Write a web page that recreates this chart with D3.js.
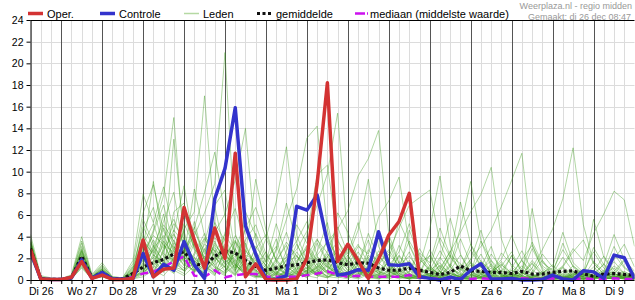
<!DOCTYPE html>
<html>
<head>
<meta charset="utf-8">
<script src="https://cdn.jsdelivr.net/npm/d3@7"></script>
<style>
  body { margin: 0; background: #fff; }
  svg { display: block; font-family: "Liberation Sans", Arial, sans-serif; }
</style>
</head>
<body>
<svg id="chart" width="635" height="300"></svg>
<script>
// neerslag per 6 uur (mm), start di 26 dec 06:00, stap 6 uur
var dayLabels = ["Di 26", "Wo 27", "Do 28", "Vr 29", "Za 30", "Zo 31", "Ma 1", "Di 2",
                 "Wo 3", "Do 4", "Vr 5", "Za 6", "Zo 7", "Ma 8", "Di 9"];
var yTicks = [0, 2, 4, 6, 8, 10, 12, 14, 16, 18, 20, 22, 24];

var oper = [2.8,0.1,0.05, 0.05,0.25,1.7,0.15, 0.45,0.05,0.05,0.15, 3.7,0.3,1.0,1.1,
            6.7,3.7,1.1,4.8, 2.0,11.7,0.3,1.5, 0.05,0,0,0.1, 2.0,8.9,18.2,1.7,
            3.3,1.8,0.15,1.9, 4.15,5.4,8.0,0.2];

var controle = [2.6,0.1,0.05, 0.05,0.2,1.85,0.15, 0.7,0.1,0.1,0.1, 2.45,0.3,1.45,0.9,
                3.55,1.4,0.15,7.5, 10.3,15.9,5.0,2.4, 0.05,0.05,0.4,6.8, 6.45,7.85,3.45,0.45,
                0.6,0.95,0.9,4.45, 1.4,1.35,1.5,0.3, 0.15,0,0.25,0.05, 0.9,1.5,0.1,0.1,
                0.15,0,0,0.05, 0.45,0.1,0,0.85, 0.75,0.15,2.3,2.05, 0.15];

var gemiddelde = [2.9,0.1,0.05, 0.05,0.2,2.2,0.2, 0.7,0.1,0.1,0.6, 1.2,1.6,1.9,2.4,
                  2.6,1.5,1.3,2.2, 2.7,2.5,1.8,1.25, 0.9,1.1,1.3,1.4, 1.6,1.8,1.85,1.6,
                  1.4,1.6,1.55,1.1, 0.9,0.9,1.1,0.9, 0.7,0.5,0.7,1.3, 0.85,0.8,0.7,0.7,
                  0.6,0.8,0.55,0.55, 0.7,0.8,0.85,0.55, 0.35,0.55,0.6,0.5, 0.45];

var mediaan = [2.8,0.1,0.05, 0.05,0.2,1.9,0.15, 0.6,0.1,0.05,0.3, 0.6,0.75,1.2,1.7,
               2.2,0.4,0.3,0.9, 0.25,0.45,0.55,0.55, 0.3,0.3,0.3,0.3, 0.45,0.6,0.8,0.5,
               0.3,0.4,0.3,0.3, 0.3,0.3,0.45,0.2, 0.15,0.1,0.1,0.15, 0.1,0.15,0.1,0.05,
               0.1,0.15,0.1,0.1, 0.15,0.1,0.1,0.15, 0.1,0.1,0.15,0.1, 0.1];

var leden = [
  [3.2,0.1,0, 0,0.2,2.4,0.1, 0.8,0.1,0,0.3, 1.5,3.2,0.8,2.1, 4.5,1.2,0.6,2.8, 1.9,0.7,3.4,0.9, 0.2,0.5,1.8,0.6, 2.4,1.1,0.3,0.8, 0.5,1.9,0.4,0.1, 0.6,2.2,0.9,0.3, 0.1,0.4,1.5,0.2, 0,0.3,0.8,0.1, 0.5,0.2,0,0.1, 0.3,1.1,0.2,0, 0.4,0.6,0.2,0.1, 0],
  [2.6,0,0, 0,0.1,1.5,0.2, 0.5,0,0.1,0.8, 4.2,2.5,6.1,1.3, 2.2,5.4,1.8,0.9, 0.4,2.9,1.2,0.3, 1.4,3.8,0.7,0.2, 0.9,2.6,5.3,1.2, 0.3,0.8,2.1,0.5, 1.7,0.4,0.1,0.6, 2.3,0.8,0.2,0, 0.4,1.2,3.1,0.5, 0.1,0,0.6,1.8, 0.4,0.2,0,0.3, 1.2,0.3,0.1,0.5, 0.2],
  [3.5,0.2,0.1, 0,0.3,2.8,0.3, 1.0,0.2,0.1,1.2, 2.1,4.6,7.8,15.0, 3.1,0.8,2.2,1.1, 0.5,3.6,0.9,2.4, 0.7,0.1,1.1,3.3, 1.5,0.4,0.9,2.2, 0.8,0.2,1.4,3.9, 1.1,0.3,0.6,0.2, 0.9,1.6,0.4,0.1, 0,0.5,0.2,1.3, 2.6,0.7,0.1,0, 0.2,0.8,0.3,0.1, 0,0.4,1.7,0.6, 0.1],
  [2.9,0.1,0, 0.1,0.2,1.9,0.1, 0.6,0.1,0,0.2, 0.8,2.3,1.6,3.4, 2.7,4.1,6.2,8.9, 21.0,4.3,1.2,0.5, 0.3,0.9,2.1,0.7, 0.2,1.3,0.6,0.4, 1.9,0.7,0.2,0.1, 0.3,1.0,2.6,0.4, 0.1,0.2,0.7,0.3, 1.4,0.3,0,0.2, 0.6,1.8,0.4,0.1, 0,0.2,0.5,0.9, 0.3,0.1,0.2,0.7, 0.4],
  [3.1,0.2,0, 0,0.2,2.2,0.2, 0.9,0.1,0.1,0.6, 3.3,5.2,2.4,1.8, 4.7,6.3,17.0,5.1, 2.3,1.4,0.6,1.9, 0.4,0.2,0.8,1.6, 3.2,0.9,0.3,0.5, 0.2,1.4,3.7,0.8, 0.4,0.1,0.3,1.2, 0.5,0.2,0.1,0.4, 0.8,2.4,0.6,0.1, 0,0.1,0.3,0.7, 1.1,0.2,0,0.1, 0.3,0.6,0.2,0.1, 0],
  [2.4,0,0, 0,0.1,1.3,0.1, 0.4,0,0,0.1, 0.5,1.7,3.2,2.6, 1.4,0.9,2.8,4.4, 6.1,9.2,14.0,3.5, 1.2,0.6,0.3,1.1, 0.7,2.1,1.4,0.3, 0.1,0.6,0.9,2.4, 0.8,0.3,0.1,0.2, 0.6,1.3,0.4,0.1, 0.2,0.1,0.5,0.3, 0.1,0.4,1.6,0.5, 0.2,0,0.1,0.3, 0.6,1.4,0.3,0.2, 0.1],
  [3.8,0.3,0.1, 0.1,0.4,3.4,0.4, 1.3,0.3,0.2,1.5, 6.2,8.8,4.5,2.9, 1.8,3.6,1.2,0.7, 2.5,1.1,4.8,6.7, 3.9,7.2,12.3,4.1, 1.8,0.6,2.2,0.9, 0.4,0.2,0.7,1.5, 2.8,1.2,0.4,0.1, 0.3,0.9,2.7,0.6, 0.2,0.1,0.3,0.8, 0.4,0.1,0,0.2, 0.5,1.2,0.4,0.1, 0.2,0.3,0.8,1.9, 0.5],
  [2.7,0.1,0, 0,0.2,1.7,0.2, 0.6,0.1,0.1,0.4, 1.2,0.6,2.8,4.3, 2.1,1.3,0.7,3.6, 1.4,0.5,2.3,1.8, 0.9,2.7,5.6,8.4, 13.1,14.2,4.6,1.3, 0.7,2.2,0.5,0.2, 0.4,1.1,0.3,0.1, 0.2,0.6,0.3,1.4, 0.5,0.2,0.1,0.3, 0.9,0.4,0.1,0, 0.2,0.1,0.4,1.0, 0.3,0.2,0.1,0.4, 0.2],
  [3.3,0.2,0.1, 0,0.3,2.6,0.3, 0.8,0.2,0.1,0.9, 2.7,1.4,3.9,5.6, 3.3,2.0,1.1,2.5, 4.2,2.6,1.0,0.4, 0.2,0.6,1.9,2.8, 4.5,6.9,9.8,15.4, 3.6,1.2,0.5,0.9, 1.6,0.4,0.2,0.7, 1.1,0.3,0.1,0.2, 0.4,0.9,1.8,0.3, 0.1,0.2,0.6,0.1, 0,0.3,0.8,0.2, 0.4,0.9,0.3,0.1, 0],
  [2.2,0,0, 0,0.1,1.2,0.1, 0.3,0,0,0.2, 0.9,2.1,1.3,0.6, 2.9,1.6,3.8,2.2, 0.8,1.9,0.6,0.3, 0.5,1.4,0.4,0.2, 0.8,2.3,3.5,4.7, 6.4,9.6,11.2,13.8, 4.2,1.6,0.5,0.2, 0.6,0.3,1.2,0.4, 0.1,0.2,0.6,1.5, 0.3,0.1,0,0.2, 0.7,0.3,0.1,0.4, 0.2,0.1,0.3,0.5, 0.1],
  [3.6,0.2,0.1, 0,0.3,3.1,0.3, 1.1,0.2,0.1,0.7, 3.8,2.2,5.1,3.6, 1.7,0.8,1.5,3.2, 2.1,3.7,1.6,0.8, 0.3,0.2,0.9,0.5, 1.2,0.6,1.8,2.6, 1.3,3.1,2.4,5.8, 7.3,9.5,3.2,1.1, 0.4,0.2,0.6,0.3, 1.6,0.5,0.2,0.1, 0.3,0.7,0.2,0, 0.1,0.4,1.3,0.6, 0.2,0.5,0.3,0.1, 0.2],
  [2.5,0.1,0, 0,0.2,1.6,0.1, 0.5,0.1,0,0.3, 1.6,3.7,2.2,1.1, 0.6,2.5,4.3,1.7, 3.1,0.9,2.7,1.5, 0.6,1.8,3.2,0.8, 0.4,1.5,0.7,1.1, 2.3,0.9,0.3,1.4, 2.6,4.8,6.9,7.6, 8.3,3.4,1.2,0.5, 0.2,0.7,0.3,0.1, 0.4,1.3,0.5,0.2, 0,0.1,0.6,0.3, 0.8,0.2,0.1,0.3, 0.1],
  [3.0,0.1,0, 0,0.2,2.1,0.2, 0.7,0.1,0.1,0.5, 2.4,1.3,0.7,2.8, 5.2,3.1,1.4,0.6, 1.3,2.2,0.8,3.1, 1.7,0.5,0.2,0.9, 2.1,0.8,0.4,1.7, 0.6,0.3,1.9,0.8, 0.5,1.3,2.2,0.9, 0.3,1.1,2.6,4.4, 6.3,7.9,10.4,3.8, 1.2,0.4,0.2,0.6, 0.3,0.1,0.5,0.9, 0.2,0.6,1.1,0.4, 0.2],
  [2.8,0.1,0, 0,0.2,1.8,0.2, 0.6,0.1,0,0.4, 1.1,2.9,4.1,1.9, 0.8,1.6,2.4,5.3, 3.6,1.4,0.7,2.2, 1.1,0.4,1.5,2.3, 0.6,1.9,1.2,0.5, 0.3,1.1,0.6,2.7, 1.4,0.6,0.2,0.4, 1.2,0.5,0.2,0.8, 1.9,3.1,4.6,6.8, 9.2,11.7,3.3,0.9, 0.4,0.2,0.7,0.3, 0.1,0.4,0.2,0.6, 0.3],
  [3.4,0.2,0.1, 0.1,0.3,2.9,0.3, 1.2,0.2,0.1,1.0, 4.9,3.1,1.8,4.2, 2.4,1.1,3.3,2.7, 1.5,0.6,1.7,0.9, 0.4,1.2,0.6,1.8, 2.9,1.4,0.6,0.3, 0.8,0.4,1.2,0.6, 0.2,0.9,0.4,1.6, 2.2,0.7,0.3,0.1, 0.5,0.2,0.8,1.4, 0.6,0.3,1.1,2.8, 4.7,7.5,12.2,5.1, 1.6,0.5,0.2,0.4, 0.2],
  [2.3,0,0, 0,0.1,1.4,0.1, 0.4,0,0,0.2, 0.6,1.8,0.9,3.1, 1.9,0.7,1.3,3.9, 2.8,1.5,0.4,1.2, 2.6,0.8,0.3,0.6, 1.1,0.4,1.6,0.8, 0.3,1.5,0.7,0.4, 0.9,0.3,0.1,0.5, 0.2,1.4,0.6,0.2, 0.7,0.3,1.5,0.5, 0.2,0.1,0.4,0.2, 0.6,1.3,2.9,1.8, 4.3,6.1,8.2,7.4, 3.1],
  [4.2,0.4,0.2, 0.1,0.5,4.0,0.5, 1.6,0.3,0.2,1.8, 7.9,5.3,8.6,4.4, 8.7,3.2,2.1,1.2, 0.7,2.8,5.4,2.6, 1.3,0.4,2.7,5.1, 3.4,1.8,0.7,2.4, 1.1,0.5,2.8,1.6, 0.7,2.3,1.1,0.3, 0.6,2.1,0.8,0.2, 0.1,0.6,1.3,0.4, 0.2,0.5,1.8,0.7, 0.3,0.1,0.4,0.8, 0.3,0.2,0.6,0.2, 0.1],
  [2.1,0,0, 0,0.1,1.1,0.1, 0.3,0,0,0.1, 0.3,0.9,0.4,1.5, 2.6,4.8,8.1,11.8, 5.9,2.3,1.1,0.4, 0.2,0.7,1.3,0.5, 0.3,0.8,2.1,3.6, 2.2,0.8,0.3,0.2, 0.5,1.7,0.6,0.2, 0.1,0.3,0.9,2.3, 0.8,0.3,0.1,0.2, 0.6,0.3,0.1,0, 0.2,0.5,0.2,0.1, 0.3,0.8,0.4,0.2, 0.1],
  [3.1,0.1,0, 0,0.2,2.3,0.2, 0.7,0.1,0.1,0.6, 2.9,9.1,3.4,1.2, 0.9,2.1,1.3,0.5, 1.8,4.1,2.4,9.3, 4.6,1.7,0.5,0.3, 0.6,1.2,3.8,2.1, 0.9,2.6,1.2,0.4, 0.2,0.7,1.8,0.5, 0.4,1.9,5.7,2.4, 0.6,0.2,0.4,0.9, 0.3,0.1,0.2,0.6, 1.4,0.4,0.1,0.2, 0.1,0.3,0.6,0.2, 0.1],
  [2.7,0.1,0, 0,0.2,1.9,0.2, 0.5,0.1,0,0.3, 1.4,0.7,2.1,13.0, 4.1,1.2,0.6,1.9, 3.3,1.6,0.8,0.3, 0.5,2.9,7.1,3.4, 1.3,0.5,0.2,0.9, 3.2,1.3,0.6,0.2, 0.4,0.2,0.8,2.9, 1.3,0.4,0.2,0.1, 0.3,0.8,0.4,0.2, 1.1,2.7,0.9,0.3, 0.1,0.2,0.6,0.2, 0.4,1.5,0.5,0.2, 0.1],
  [3.5,0.2,0.1, 0,0.3,2.7,0.3, 1.0,0.2,0.1,0.8, 3.6,2.4,1.2,6.3, 7.1,2.9,1.6,0.8, 4.4,6.6,3.1,1.4, 0.8,0.3,0.7,1.4, 4.1,9.7,10.6,3.8, 1.5,0.6,0.3,0.5, 1.2,0.4,0.2,0.9, 0.5,0.2,0.1,0.3, 1.7,0.6,0.2,0.1, 0.3,0.9,0.3,0.1, 0.5,0.2,0.1,0.4, 0.9,0.3,0.1,0.2, 0.1],
  [2.4,0,0, 0,0.1,1.5,0.1, 0.4,0,0,0.2, 0.7,1.6,0.8,1.9, 1.1,3.4,1.9,6.8, 2.4,1.1,4.9,2.2, 1.4,0.6,0.2,0.8, 0.4,0.2,1.3,0.7, 2.1,4.6,9.3,3.1, 1.3,0.5,1.6,0.6, 2.8,1.1,0.4,0.2, 0.1,0.5,1.1,0.4, 0.2,0.1,0.3,0.8, 0.3,0.1,0.2,0.5, 0.2,0.4,1.3,0.6, 0.2],
  [3.0,0.1,0, 0,0.2,2.0,0.2, 0.6,0.1,0.1,0.4, 5.6,3.4,1.5,0.7, 2.2,8.4,4.1,2.6, 1.2,0.5,1.8,4.3, 2.1,0.7,0.4,1.2, 0.8,3.4,1.6,0.5, 0.2,0.9,0.4,1.8, 3.6,0.8,0.3,0.2, 0.4,0.1,0.3,1.0, 0.4,0.2,0.6,1.7, 0.5,0.2,0.1,0.3, 0.2,0.6,0.3,0.1, 0.3,0.2,0.4,0.8, 0.3],
  [2.9,0.1,0, 0,0.2,1.7,0.1, 0.5,0.1,0,0.3, 1.8,4.4,6.9,3.1, 1.6,0.7,2.9,1.3, 0.6,1.4,0.6,0.2, 0.3,1.1,0.5,2.2, 1.4,0.6,0.3,0.2, 0.5,1.8,0.7,0.3, 0.1,0.4,1.2,0.5, 0.2,0.6,2.1,7.2, 3.3,1.2,0.4,0.2, 0.6,0.3,0.1,0.2, 0.5,0.2,0.1,0.6, 0.3,0.1,0.2,0.4, 0.2],
  [3.3,0.2,0.1, 0,0.3,2.5,0.3, 0.9,0.2,0.1,0.7, 2.3,1.1,3.6,2.4, 6.2,2.8,1.1,0.4, 2.9,1.3,0.5,1.6, 3.8,1.9,0.8,0.3, 0.6,1.1,2.4,1.2, 0.5,0.2,1.3,4.1, 1.8,0.6,0.3,0.1, 0.3,0.8,0.3,0.5, 1.9,4.6,1.4,0.5, 0.2,0.6,1.5,0.4, 0.2,0.1,0.3,0.6, 0.3,0.6,2.4,1.1, 0.4],
  [2.6,0.1,0, 0,0.1,1.6,0.1, 0.5,0.1,0,0.2, 1.0,0.5,1.7,0.9, 0.4,1.3,0.6,2.1, 1.1,0.4,1.5,0.7, 0.3,0.1,0.6,0.4, 0.9,0.4,0.2,0.7, 0.3,0.1,0.5,0.3, 0.8,0.3,0.1,0.2, 0.4,0.2,0.6,0.3, 0.1,0.3,0.2,0.6, 0.3,0.1,0,0.2, 0.1,0.3,0.2,0.1, 0.2,0.1,0.3,0.2, 0.1],
  [3.7,0.3,0.1, 0.1,0.4,3.6,0.4, 1.4,0.2,0.1,1.3, 4.6,6.7,2.9,5.2, 3.8,1.5,0.8,3.4, 2.0,0.8,6.3,4.1, 1.6,5.2,2.3,0.9, 3.1,1.7,0.8,6.2, 4.4,2.0,0.9,0.4, 1.9,5.4,3.3,1.3, 4.7,9.6,3.2,1.1, 0.5,1.8,0.7,0.3, 0.9,0.4,6.6,1.8, 0.7,0.3,0.2,0.5, 0.8,2.2,0.9,0.3, 0.2],
  [2.8,0.1,0, 0,0.2,2.0,0.2, 0.7,0.1,0.1,0.5, 0.6,3.1,5.4,8.1, 2.6,0.9,3.5,6.9, 8.3,2.5,1.3,0.6, 0.4,2.0,4.4,1.5, 0.5,0.9,2.7,4.9, 2.4,5.3,1.8,0.7, 0.3,0.8,4.6,2.1, 0.8,0.4,1.3,4.9, 9.1,3.6,1.2,0.4, 2.3,0.7,0.2,0.1, 0.6,3.4,1.2,0.4, 5.6,2.1,0.6,0.3, 0.2],
  [3.0,0.1,0, 0,0.2,2.2,0.2, 0.8,0.1,0.1,0.7, 2.6,4.1,3.3,1.6, 0.9,2.3,3.9,2.1, 1.2,3.5,2.2,0.8, 1.9,3.1,1.2,0.6, 2.2,3.8,1.7,0.9, 1.8,3.3,1.5,0.6, 2.4,1.3,3.6,1.9, 0.9,2.7,1.2,3.8, 1.5,0.6,2.4,1.1, 0.4,1.9,3.2,1.3, 0.6,2.1,0.8,0.3, 1.7,0.8,3.1,1.2, 0.5],
  [2.5,0.1,0, 0,0.1,1.6,0.1, 0.5,0.1,0,0.4, 1.9,0.8,2.7,4.6, 3.4,1.8,0.9,1.6, 3.9,1.7,2.8,1.3, 0.7,1.6,3.5,2.2, 1.0,0.5,1.4,3.1, 1.6,0.7,2.3,1.2, 0.6,3.2,1.4,0.5, 1.3,3.9,2.1,0.9, 2.8,1.2,0.5,2.5, 1.4,0.6,2.9,1.1, 0.4,1.2,2.6,3.7, 1.5,0.6,1.9,3.3, 1.2],
  [3.4,0.2,0.1, 0,0.3,2.7,0.3, 1.0,0.2,0.1,1.1, 3.1,1.9,4.8,2.7, 1.3,4.5,2.6,1.4, 2.3,0.9,3.7,5.1, 2.4,1.1,2.2,3.6, 5.4,2.2,1.2,0.6, 2.9,1.4,4.3,2.0, 3.7,1.5,0.7,2.5, 1.6,4.8,2.2,1.0, 3.3,1.7,0.8,1.9, 4.1,1.8,0.7,2.4, 1.2,4.4,1.6,0.7, 2.6,1.1,0.5,1.8, 0.6],
  [2.8,0.1,0, 0,0.2,1.9,0.2, 0.6,0.1,0,0.5, 1.3,2.8,1.1,3.7, 2.0,4.9,1.7,3.0, 1.6,2.4,0.9,2.9, 4.2,1.8,0.8,2.6, 1.3,3.7,2.5,1.1, 3.4,1.6,0.7,2.2, 1.3,2.6,5.2,2.3, 1.0,0.6,2.3,1.5, 0.7,3.6,1.8,0.8, 2.2,1.0,3.5,1.6, 0.9,2.8,1.3,0.5, 3.0,1.4,4.2,1.9, 0.8]
];

var width = 635, height = 300;
var pLeft = 30.5, pRight = 634.5, pTop = 20, pBottom = 280;

var start = new Date(2023, 11, 26, 6);
var end = new Date(2024, 0, 10, 0);
function tijd(i) { return d3.timeHour.offset(start, i * 6); }

var x = d3.scaleTime().domain([start, end]).range([pLeft, pRight]);
var y = d3.scaleLinear().domain([0, 24]).range([pBottom, pTop]);

var svg = d3.select('#chart');
svg.append('rect').attr('width', width).attr('height', height).attr('fill', '#fff');

svg.append('defs').append('clipPath').attr('id', 'plot')
  .append('rect').attr('x', pLeft).attr('y', 0).attr('width', pRight - pLeft).attr('height', pBottom + 5);

// grid
var grid = svg.append('g');
grid.selectAll('.hgrid')
  .data(yTicks.filter(function(v) { return v > 0 && v < 24; }))
  .enter().append('line')
    .attr('x1', pLeft).attr('x2', pRight)
    .attr('y1', function(d) { return Math.round(y(d)) + 0.5; })
    .attr('y2', function(d) { return Math.round(y(d)) + 0.5; })
    .attr('stroke', '#dcdcdc').attr('stroke-width', 1);

var sixHours = d3.timeHour.every(6).range(start, end);
grid.selectAll('.vgrid')
  .data(sixHours.filter(function(d) { return d.getHours() !== 0; }))
  .enter().append('line')
    .attr('x1', function(d) { return Math.round(x(d)) + 0.5; })
    .attr('x2', function(d) { return Math.round(x(d)) + 0.5; })
    .attr('y1', pTop).attr('y2', pBottom)
    .attr('stroke', '#dcdcdc').attr('stroke-width', 1);

grid.selectAll('.day')
  .data(d3.timeDay.range(d3.timeHour.offset(start, 1), end))
  .enter().append('line')
    .attr('x1', function(d) { return Math.round(x(d)) + 0.5; })
    .attr('x2', function(d) { return Math.round(x(d)) + 0.5; })
    .attr('y1', pTop).attr('y2', pBottom)
    .attr('stroke', '#555').attr('stroke-width', 1);

// lijnen
var line = d3.line()
  .x(function(d, i) { return x(tijd(i)); })
  .y(function(d) { return y(d); });

var plot = svg.append('g').attr('clip-path', 'url(#plot)');

plot.selectAll('.lid')
  .data(leden)
  .enter().append('path')
    .attr('d', line)
    .attr('fill', 'none')
    .attr('stroke', '#3c9c1c')
    .attr('stroke-opacity', 0.4)
    .attr('stroke-width', 1);

plot.append('path').datum(mediaan).attr('d', line)
  .attr('fill', 'none').attr('stroke', '#cc11ee').attr('stroke-width', 2.5)
  .attr('stroke-dasharray', '8,5');

plot.append('path').datum(gemiddelde).attr('d', line)
  .attr('fill', 'none').attr('stroke', '#111').attr('stroke-width', 3.2)
  .attr('stroke-dasharray', '3,2.5');

plot.append('path').datum(controle).attr('d', line)
  .attr('fill', 'none').attr('stroke', '#3333cc').attr('stroke-width', 3.5)
  .attr('stroke-linejoin', 'round');

plot.append('path').datum(oper).attr('d', line)
  .attr('fill', 'none').attr('stroke', '#d33333').attr('stroke-width', 3.5)
  .attr('stroke-linejoin', 'round');

// assen
svg.append('line').attr('x1', pLeft).attr('x2', pRight).attr('y1', pTop + 0.5).attr('y2', pTop + 0.5)
  .attr('stroke', '#000');

var xTicks = d3.axisBottom(x).tickValues(sixHours).tickSize(4).tickFormat('');
var gx = svg.append('g').attr('transform', 'translate(0,' + pBottom + ')').call(xTicks);
gx.select('.domain').attr('d', 'M' + pLeft + ',0.5H' + pRight).attr('stroke', '#000');
gx.selectAll('.tick line').attr('stroke', '#000');

var noons = dayLabels.map(function(d, i) { return d3.timeHour.offset(new Date(2023, 11, 26), 12 + i * 24); });
var xLabels = d3.axisBottom(x).tickValues(noons).tickSize(0)
  .tickFormat(function(d, i) { return dayLabels[i]; });
var gl = svg.append('g').attr('transform', 'translate(0,' + (pBottom + 5) + ')').call(xLabels);
gl.select('.domain').remove();
gl.selectAll('text').attr('font-family', '"Liberation Sans", Arial, sans-serif')
  .attr('font-size', 10.5).attr('fill', '#000');

var yAxis = d3.axisLeft(y).tickValues(yTicks).tickSize(4).tickPadding(3);
var gy = svg.append('g').attr('transform', 'translate(' + pLeft + ',0)').call(yAxis);
gy.select('.domain').attr('d', 'M0.5,' + pTop + 'V' + pBottom).attr('stroke', '#000');
gy.selectAll('.tick line').attr('stroke', '#000');
gy.selectAll('text').attr('font-family', '"Liberation Sans", Arial, sans-serif')
  .attr('font-size', 10.5).attr('fill', '#000');

// legenda
var legend = svg.append('g').attr('font-size', 11).attr('fill', '#000');
function legendLine(x1, x2, kleur, breedte, dash) {
  legend.append('line').attr('x1', x1).attr('x2', x2).attr('y1', 13.5).attr('y2', 13.5)
    .attr('stroke', kleur).attr('stroke-width', breedte).attr('stroke-dasharray', dash || null);
}
legendLine(28, 43, '#d33333', 3.5);
legend.append('text').attr('x', 47).attr('y', 17.5).text('Oper.');
legendLine(100, 115, '#3333cc', 3.5);
legend.append('text').attr('x', 119).attr('y', 17.5).text('Controle');
legendLine(184, 199, '#b5d9a3', 1.5);
legend.append('text').attr('x', 203).attr('y', 17.5).text('Leden');
legendLine(257, 271, '#111', 3, '3,2.5');
legend.append('text').attr('x', 276).attr('y', 17.5).text('gemiddelde');
legendLine(355, 368, '#cc11ee', 2.5, '10,2,1.5,4');
legend.append('text').attr('x', 370).attr('y', 17.5).text('mediaan (middelste waarde)');

svg.append('text').attr('x', 632).attr('y', 9).attr('text-anchor', 'end')
  .attr('font-size', 9).attr('fill', '#999').text('Weerplaza.nl - regio midden');
svg.append('text').attr('x', 631).attr('y', 19.5).attr('text-anchor', 'end')
  .attr('font-size', 9).attr('fill', '#999').text('Gemaakt: di 26 dec 08:47');
</script>
</body>
</html>
